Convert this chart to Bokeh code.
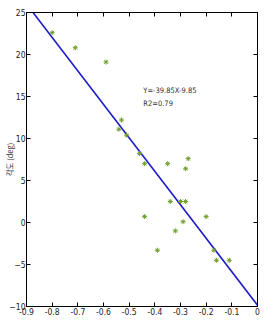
from bokeh.plotting import figure
from bokeh.models import FixedTicker, LinearAxis, Range1d
from bokeh.core.properties import value
from bokeh.embed import file_html
from bokeh.resources import INLINE

x_pts = [-0.80, -0.71, -0.59, -0.53, -0.54, -0.51, -0.46, -0.44, -0.35, -0.27, -0.28,
         -0.34, -0.30, -0.28, -0.44, -0.20, -0.29, -0.32, -0.39, -0.17, -0.16, -0.11]
y_pts = [22.6, 20.8, 19.1, 12.2, 11.1, 10.4, 8.2, 7.0, 7.0, 7.6, 6.4,
         2.5, 2.5, 2.5, 0.7, 0.7, 0.1, -1.0, -3.3, -3.3, -4.5, -4.5]
slope = -39.85
intercept = -9.85
fit_x = [-0.9, 0.0]
x_ticks = [-0.9, -0.8, -0.7, -0.6, -0.5, -0.4, -0.3, -0.2, -0.1, 0.0]
x_labels = ["-0.9", "-0.8", "-0.7", "-0.6", "-0.5", "-0.4", "-0.3", "-0.2", "-0.1", "0"]
y_ticks = [-10, -5, 0, 5, 10, 15, 20, 25]
eq_text = ["Y=-39.85X-9.85", "R2=0.79"]
y_label = "각도 (deg)"

FONT = "DejaVu Sans Condensed"

p = figure(width=267, height=333, output_backend="svg", toolbar_location=None,
           x_range=Range1d(-0.9, 0), y_range=Range1d(-10, 25),
           min_border_left=26, min_border_right=10, min_border_top=12, min_border_bottom=27,
           background_fill_color="white", border_fill_color="white")
p.xgrid.visible = False
p.ygrid.visible = False
p.outline_line_color = "black"
p.outline_line_width = 1

fit_y = [slope * v + intercept for v in fit_x]
p.line(fit_x, fit_y, line_color="#1c1cc8", line_width=1.6)
p.scatter(x_pts, y_pts, marker="asterisk", size=5, line_color="#6f9f2a", line_width=1)

p.text(x=[-0.445, -0.445], y=[15.7, 14.2], text=eq_text, text_font=value(FONT),
       text_font_size="7.5px", text_color="#333333", text_baseline="middle", text_align="left")

for ax in (p.xaxis[0], p.yaxis[0]):
    ax.major_tick_in = 4
    ax.major_tick_out = 0
    ax.minor_tick_in = 0
    ax.minor_tick_out = 0
    ax.axis_line_color = "black"
    ax.major_tick_line_color = "black"
    ax.major_label_text_font = FONT
    ax.major_label_text_font_size = "8.5px"
    ax.major_label_text_color = "#222222"
    ax.major_label_standoff = 1

p.xaxis[0].ticker = FixedTicker(ticks=x_ticks)
p.xaxis[0].major_label_overrides = {t: l for t, l in zip(x_ticks, x_labels)}
p.yaxis[0].ticker = FixedTicker(ticks=y_ticks)
p.yaxis[0].axis_label = y_label
p.yaxis[0].axis_label_text_font = "Noto Sans CJK KR"
p.yaxis[0].axis_label_text_font_size = "7.5px"
p.yaxis[0].axis_label_text_font_style = "normal"
p.yaxis[0].axis_label_text_color = "#333333"
p.yaxis[0].axis_label_standoff = -9

top = LinearAxis(ticker=FixedTicker(ticks=x_ticks), major_label_text_font_size="0px",
                 major_tick_in=4, major_tick_out=0, minor_tick_in=0, minor_tick_out=0,
                 major_label_standoff=0, axis_line_color="black")
right = LinearAxis(ticker=FixedTicker(ticks=y_ticks), major_label_text_font_size="0px",
                   major_tick_in=4, major_tick_out=0, minor_tick_in=0, minor_tick_out=0,
                   major_label_standoff=0, axis_line_color="black")
top.major_label_overrides = {t: "" for t in x_ticks}
right.major_label_overrides = {t: "" for t in y_ticks}
p.add_layout(top, "above")
p.add_layout(right, "right")

open("out.html", "w").write(file_html(p, INLINE))
